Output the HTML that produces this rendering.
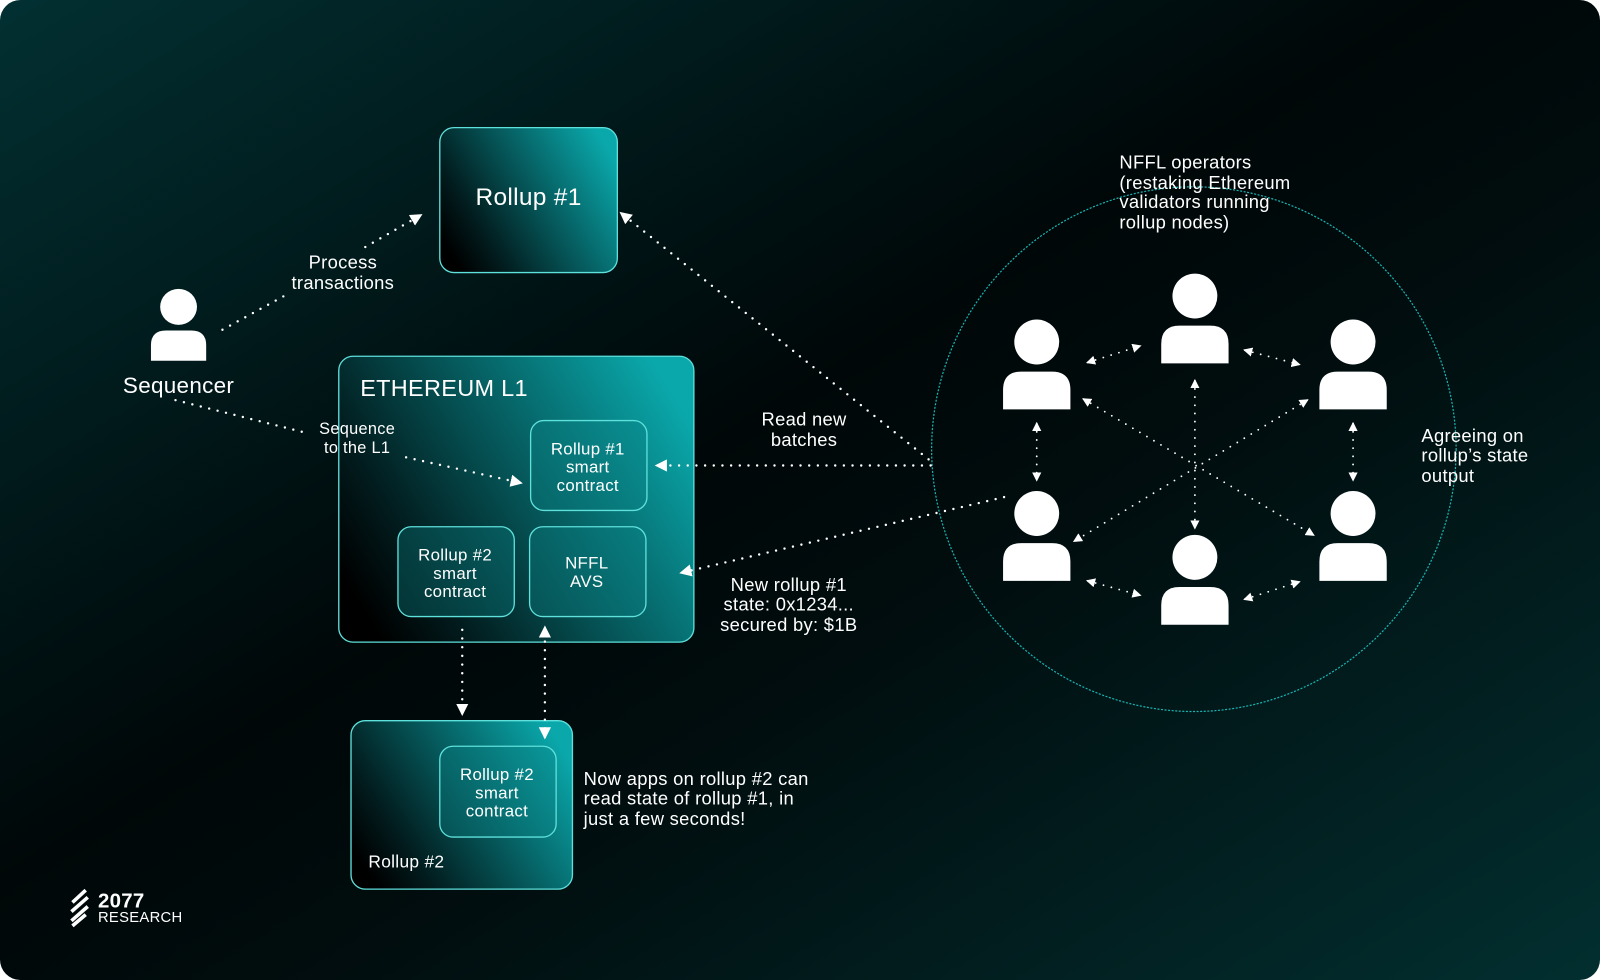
<!DOCTYPE html>
<html><head><meta charset="utf-8"><style>
html,body{margin:0;padding:0;background:#fff;width:1600px;height:980px;overflow:hidden}
svg{display:block}
text{font-family:"Liberation Sans",sans-serif;fill:#fff;letter-spacing:0.3px}
</style></head><body>
<svg width="1600" height="980" viewBox="0 0 1568 960" preserveAspectRatio="none" xmlns="http://www.w3.org/2000/svg">
<defs>
<linearGradient id="bg" x1="0" y1="0" x2="1" y2="1">
<stop offset="0" stop-color="#023032"/>
<stop offset="0.45" stop-color="#000708"/>
<stop offset="0.6" stop-color="#010d0e"/>
<stop offset="1" stop-color="#022f30"/>
</linearGradient>
<linearGradient id="box" x1="0" y1="0.75" x2="1" y2="0.25">
<stop offset="0" stop-color="#000"/>
<stop offset="0.2" stop-color="#021c1e"/>
<stop offset="1" stop-color="#0aa8ab"/>
</linearGradient>
<marker id="ah" viewBox="0 0 10 10" refX="8" refY="5" markerWidth="5" markerHeight="5" orient="auto-start-reverse" markerUnits="strokeWidth">
<path d="M0,0 L10,5 L0,10 Z" fill="#fff"/>
</marker>
<g id="p">
<circle cx="0" cy="22" r="22" fill="#fff"/>
<path d="M-33,88 L-33,69 Q-33,51 -15,51 L15,51 Q33,51 33,69 L33,88 Z" fill="#fff"/>
</g>
</defs>
<rect x="0" y="0" width="1568" height="960" rx="20" fill="url(#bg)"/>

<circle cx="1170" cy="440" r="257" fill="none" stroke="#19b3b3" stroke-width="1.2" stroke-dasharray="2 1.5"/>

<rect x="431" y="125" width="174" height="142" rx="14" fill="url(#box)" stroke="#5ee0db" stroke-width="1.3"/>
<text x="518" y="201" font-size="24" text-anchor="middle">Rollup #1</text>

<rect x="332" y="349" width="348" height="280" rx="14" fill="url(#box)" stroke="#5ee0db" stroke-width="1.3"/>
<text x="353" y="388" font-size="23">ETHEREUM L1</text>

<g fill="#0b8486" fill-opacity="0.35" stroke="#5ee0db" stroke-width="1.3">
<rect x="520" y="412" width="114" height="88" rx="13"/>
<rect x="390" y="516" width="114" height="88" rx="13"/>
<rect x="519" y="516" width="114" height="88" rx="13"/>
</g>
<g font-size="16.5" text-anchor="middle">
<text x="576" y="445">Rollup #1</text><text x="576" y="463">smart</text><text x="576" y="481">contract</text>
<text x="446" y="549">Rollup #2</text><text x="446" y="567">smart</text><text x="446" y="585">contract</text>
<text x="575" y="557">NFFL</text><text x="575" y="575">AVS</text>
</g>

<rect x="344" y="706" width="217" height="165" rx="14" fill="url(#box)" stroke="#5ee0db" stroke-width="1.3"/>
<rect x="431" y="731" width="114" height="89" rx="13" fill="#0b8486" fill-opacity="0.35" stroke="#5ee0db" stroke-width="1.3"/>
<g font-size="16.5" text-anchor="middle">
<text x="487" y="764">Rollup #2</text><text x="487" y="782">smart</text><text x="487" y="800">contract</text>
</g>
<text x="361" y="850" font-size="17">Rollup #2</text>

<g transform="translate(175,283) scale(0.82,0.8)"><use href="#p"/></g>
<text x="175" y="385" font-size="22" text-anchor="middle">Sequencer</text>
<use href="#p" x="1171" y="268"/>
<use href="#p" x="1016" y="313"/>
<use href="#p" x="1326" y="313"/>
<use href="#p" x="1016" y="481"/>
<use href="#p" x="1326" y="481"/>
<use href="#p" x="1171" y="524"/>

<g fill="none" stroke="#fff" stroke-width="2.4" stroke-linecap="round" stroke-dasharray="0 8.5">
<path d="M218,323 L282,288"/>
<path d="M358,242 L412,211" marker-end="url(#ah)"/>
<path d="M172,392 L300,424"/>
<path d="M398,448 L510,473" marker-end="url(#ah)"/>
<path d="M910,450 L609,209" marker-end="url(#ah)"/>
<path d="M912,456 L644,456" marker-end="url(#ah)"/>
<path d="M984,487 L668,561" marker-end="url(#ah)"/>
<path d="M453,617 L453,699" marker-end="url(#ah)"/>
<path d="M534,722 L534,615" marker-start="url(#ah)" marker-end="url(#ah)"/>
</g>
<g fill="none" stroke="#fff" stroke-width="1.8" stroke-linecap="round" stroke-dasharray="0 8">
<path d="M1066,355 L1117,339" marker-start="url(#ah)" marker-end="url(#ah)"/>
<path d="M1220,343 L1273,357" marker-start="url(#ah)" marker-end="url(#ah)"/>
<path d="M1016,415 L1016,470" marker-start="url(#ah)" marker-end="url(#ah)"/>
<path d="M1326,415 L1326,470" marker-start="url(#ah)" marker-end="url(#ah)"/>
<path d="M1066,569 L1117,583" marker-start="url(#ah)" marker-end="url(#ah)"/>
<path d="M1220,587 L1273,570" marker-start="url(#ah)" marker-end="url(#ah)"/>
<path d="M1171,373 L1171,517" marker-start="url(#ah)" marker-end="url(#ah)"/>
<path d="M1062,391 L1287,524" marker-start="url(#ah)" marker-end="url(#ah)"/>
<path d="M1281,392 L1053,530" marker-start="url(#ah)" marker-end="url(#ah)"/>
</g>

<g font-size="18" text-anchor="middle">
<text x="336" y="263">Process</text><text x="336" y="283">transactions</text>
<text x="788" y="417">Read new</text><text x="788" y="437">batches</text>
<text x="773" y="579">New rollup #1</text><text x="773" y="598">state: 0x1234...</text><text x="773" y="618">secured by: $1B</text>
</g>
<g font-size="16" text-anchor="middle">
<text x="350" y="425">Sequence</text><text x="350" y="444">to the L1</text>
</g>
<g font-size="18">
<text x="1097" y="165">NFFL operators</text><text x="1097" y="185">(restaking Ethereum</text><text x="1097" y="204">validators running</text><text x="1097" y="224">rollup nodes)</text>
<text x="1393" y="433">Agreeing on</text><text x="1393" y="452">rollup’s state</text><text x="1393" y="472">output</text>
<text x="572" y="769">Now apps on rollup #2 can</text><text x="572" y="788">read state of rollup #1, in</text><text x="572" y="808">just a few seconds!</text>
</g>

<g stroke="#fff" stroke-width="3.5" stroke-linecap="butt">
<path d="M71,884 L84,872"/><path d="M70,893 L86,879"/><path d="M70,902 L86,888"/><path d="M71,907 L84,896"/>
</g>
<text x="96" y="889" font-size="20" font-weight="bold">2077</text>
<text x="96" y="903" font-size="14.5">RESEARCH</text>
</svg>
</body></html>
